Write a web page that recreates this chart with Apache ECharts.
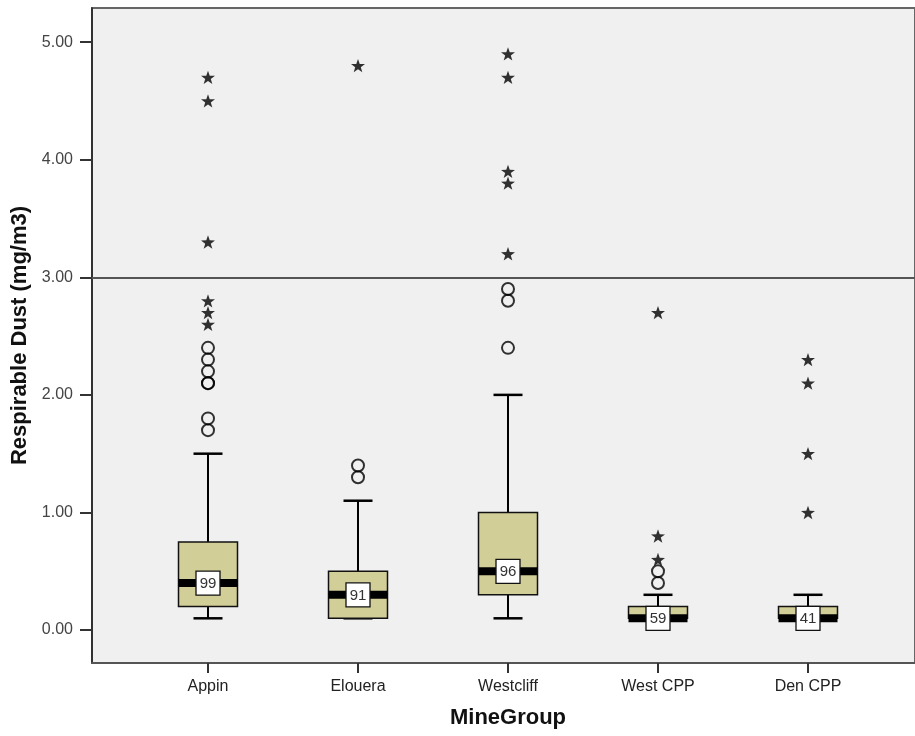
<!DOCTYPE html>
<html>
<head>
<meta charset="utf-8">
<script src="https://cdn.jsdelivr.net/npm/echarts@6/dist/echarts.min.js"></script>
<style>
  html, body { margin: 0; padding: 0; background: #ffffff; }
  #chart { width: 915px; height: 736px; }
</style>
</head>
<body>
<div id="chart"></div>
<script>
// ---- data ----
const categories = ['Appin', 'Elouera', 'Westcliff', 'West CPP', 'Den CPP'];
const lowerWhisker = [0.1, 0.1, 0.1, 0.1, 0.1];
const q1Values     = [0.2, 0.1, 0.3, 0.1, 0.1];
const medianValues = [0.4, 0.3, 0.5, 0.1, 0.1];
const q3Values     = [0.75, 0.5, 1.0, 0.2, 0.2];
const upperWhisker = [1.5, 1.1, 2.0, 0.3, 0.3];
const caseCounts   = [99, 91, 96, 59, 41];
// outliers (circles) per category
const outliers = [
  [1.7, 1.8, 2.1, 2.1, 2.2, 2.3, 2.4],
  [1.3, 1.4],
  [2.4, 2.8, 2.9],
  [0.4, 0.5],
  []
];
// extreme values (stars) per category
const extremes = [
  [2.6, 2.7, 2.8, 3.3, 4.5, 4.7],
  [4.8],
  [3.2, 3.8, 3.9, 4.7, 4.9],
  [0.6, 0.8, 2.7],
  [1.0, 1.5, 2.1, 2.3]
];
const yTickValues = [0, 1, 2, 3, 4, 5];
const referenceLine = 3.0;

// ---- build series data ----
const boxData = categories.map((c, i) => [i + 1, lowerWhisker[i], q1Values[i], medianValues[i], q3Values[i], upperWhisker[i], caseCounts[i]]);
const circleData = [];
outliers.forEach((arr, i) => arr.forEach(v => circleData.push([i + 1, v])));
const starData = [];
extremes.forEach((arr, i) => arr.forEach(v => starData.push([i + 1, v])));

const BOX_W = 59, CAP_W = 29, MED_H = 8, LBL = 24;
const STAR = 'path://M50 0 L61.76 33.82 L97.55 34.55 L69.02 56.18 L79.39 90.45 L50 70 L20.61 90.45 L30.98 56.18 L2.45 34.55 L38.24 33.82 Z';

const chart = echarts.init(document.getElementById('chart'), null, { renderer: 'canvas' });
chart.setOption({
  backgroundColor: '#ffffff',
  animation: false,
  grid: {
    left: 92, right: -3, top: 8, bottom: 73,
    show: true, backgroundColor: '#F0F0F0', borderColor: '#666', borderWidth: 2
  },
  xAxis: {
    type: 'value',
    min: 1 - 116 / 150,
    max: 1 + 707 / 150,
    name: 'MineGroup',
    nameLocation: 'middle',
    nameGap: 44,
    nameTextStyle: { fontFamily: 'Liberation Sans, Arial', fontWeight: 'bold', fontSize: 22, color: '#111', padding: [0, 0, 0, 9] },
    axisLine: { show: true, onZero: false, lineStyle: { color: '#555', width: 2 } },
    axisTick: { show: true, customValues: [1, 2, 3, 4, 5], length: 10, lineStyle: { color: '#333', width: 2 } },
    axisLabel: {
      customValues: [1, 2, 3, 4, 5],
      formatter: v => categories[Math.round(v) - 1] || '',
      fontFamily: 'Liberation Sans, Arial', fontSize: 16, color: '#222', margin: 16
    },
    splitLine: { show: false }
  },
  yAxis: {
    type: 'value',
    min: -0.28,
    max: 5.29,
    name: 'Respirable Dust (mg/m3)',
    nameLocation: 'middle',
    nameGap: 60,
    nameTextStyle: { fontFamily: 'Liberation Sans, Arial', fontWeight: 'bold', fontSize: 22, color: '#111' },
    axisLine: { show: true, onZero: false, lineStyle: { color: '#222', width: 1.5 } },
    axisTick: { show: true, customValues: yTickValues, length: 12, lineStyle: { color: '#333', width: 2 } },
    axisLabel: {
      customValues: yTickValues,
      formatter: v => v.toFixed(2),
      fontFamily: 'Liberation Sans, Arial', fontSize: 16, color: '#444', margin: 19
    },
    splitLine: { show: false }
  },
  series: [
    {
      type: 'custom',
      data: boxData,
      encode: { x: 0, y: [1, 2, 3, 4, 5] },
      z: 3,
      renderItem: function (params, api) {
        const xv = api.value(0);
        const x = api.coord([xv, 0])[0];
        const y = v => api.coord([xv, v])[1];
        const yLo = y(api.value(1)), yQ1 = y(api.value(2)), yMed = y(api.value(3)),
              yQ3 = y(api.value(4)), yHi = y(api.value(5));
        const n = api.value(6);
        const stroke = { stroke: '#000', lineWidth: 2 };
        return {
          type: 'group',
          children: [
            { type: 'line', shape: { x1: x, y1: yQ1, x2: x, y2: yLo }, style: stroke },
            { type: 'line', shape: { x1: x, y1: yQ3, x2: x, y2: yHi }, style: stroke },
            { type: 'line', shape: { x1: x - CAP_W / 2, y1: yLo, x2: x + CAP_W / 2, y2: yLo }, style: { stroke: '#000', lineWidth: 2.5 } },
            { type: 'line', shape: { x1: x - CAP_W / 2, y1: yHi, x2: x + CAP_W / 2, y2: yHi }, style: { stroke: '#000', lineWidth: 2.5 } },
            { type: 'rect', shape: { x: x - BOX_W / 2, y: yQ3, width: BOX_W, height: yQ1 - yQ3 }, style: { fill: '#D2CE98', stroke: '#111', lineWidth: 1.5 } },
            { type: 'rect', shape: { x: x - BOX_W / 2, y: yMed - MED_H / 2, width: BOX_W, height: MED_H }, style: { fill: '#000' } },
            { type: 'rect', shape: { x: x - LBL / 2, y: yMed - LBL / 2, width: LBL, height: LBL }, style: { fill: '#fff', stroke: '#111', lineWidth: 1.3 } },
            { type: 'text', style: { text: String(n), x: x, y: yMed + 1, textAlign: 'center', textVerticalAlign: 'middle', fontFamily: 'Liberation Sans, Arial', fontSize: 15, fill: '#333' } }
          ]
        };
      }
    },
    {
      type: 'scatter',
      data: circleData,
      symbol: 'circle',
      symbolSize: 12,
      z: 4,
      itemStyle: { color: 'rgba(0,0,0,0)', borderColor: '#000', borderWidth: 2 },
      markLine: {
        silent: true,
        symbol: 'none',
        label: { show: false },
        lineStyle: { color: '#555', width: 2, type: 'solid' },
        data: [{ yAxis: referenceLine }]
      }
    },
    {
      type: 'scatter',
      data: starData,
      symbol: STAR,
      symbolKeepAspect: true,
      symbolSize: 14,
      z: 4,
      itemStyle: { color: '#000' }
    }
  ]
});
</script>
</body>
</html>
